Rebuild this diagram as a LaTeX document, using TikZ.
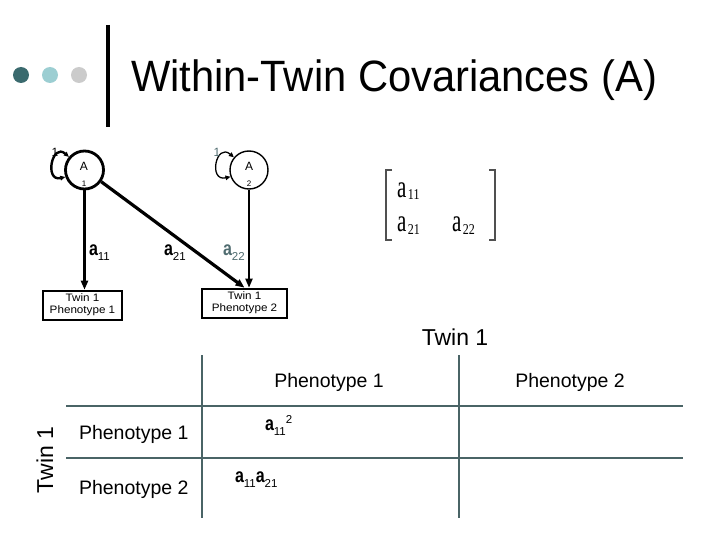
\documentclass[tikz,border=0pt]{standalone}
\usepackage{fontspec}
\setmainfont{Liberation Sans}
\newfontfamily\serifx{Liberation Serif}
\usepackage{graphicx}
\usetikzlibrary{arrows.meta}
\definecolor{dotdark}{RGB}{58,106,110}
\definecolor{dotlight}{RGB}{156,206,210}
\definecolor{dotgrey}{RGB}{203,203,203}
\definecolor{gridc}{RGB}{74,100,102}
\definecolor{tealtext}{RGB}{80,108,112}
\definecolor{bracketc}{RGB}{80,80,80}
\newcommand\bfa{\scalebox{1}[1.25]{\fontsize{16}{16}\selectfont\bfseries a}}
\newcommand\sbs[1]{\raisebox{-5pt}{\fontsize{11.5}{11.5}\selectfont #1}}
\newcommand\sra{\scalebox{1}[1.5]{\fontsize{21}{21}\selectfont a}}
\newcommand\srs[1]{\raisebox{-2pt}{\scalebox{1}[1.25]{\fontsize{12}{12}\selectfont #1}}}
\newcommand\boxtext[1]{\scalebox{1.08}[1]{\begin{tabular}{@{}c@{}}#1\end{tabular}}}
\begin{document}
\begin{tikzpicture}[x=1pt,y=-1pt,
  acirc/.style={circle, draw, minimum size=38pt, inner sep=0pt},
  phenobox/.style={rectangle, draw, line width=2.6pt, inner sep=0pt, align=center,
     font=\fontsize{10.8}{12}\selectfont},
  thickarr/.style={line width=3.2pt, -{Triangle[length=9pt,width=7pt]}},
  thinarr/.style={line width=1.8pt, -{Triangle[length=9pt,width=7pt]}},
  looparr/.style={{Triangle[length=5pt,width=4.5pt]}-{Triangle[length=5pt,width=4.5pt]}},
  txt/.style={inner sep=0pt, outer sep=0pt},
  gridline/.style={draw=gridc, line width=2.4pt},
  brack/.style={draw=bracketc, line width=1.4pt}
]
\useasboundingbox (0,0) rectangle (720,540);
\fill[white] (0,0) rectangle (720,540);

% header
\fill[dotdark] (21,75) circle (8);
\fill[dotlight] (50,75) circle (8);
\fill[dotgrey] (79,75) circle (8);
\draw[line width=4pt] (108,25) -- (108,127);
\node[txt, anchor=base west, font=\fontsize{43}{43}\selectfont] (title) at (131,92) {\scalebox{0.97}[1.02]{Within-Twin Covariances (A)}};

% path diagram
\node[acirc, line width=2.8pt] (A1) at (84.5,170) {};
\node[acirc, line width=1.4pt] (A2) at (249,170) {};
\node[txt, font=\fontsize{12}{12}\selectfont] (A1t) at (84,166) {A};
\node[txt, font=\fontsize{8}{8}\selectfont] (A1s) at (84,184) {1};
\node[txt, font=\fontsize{12}{12}\selectfont] (A2t) at (249,166) {A};
\node[txt, font=\fontsize{8}{8}\selectfont] (A2s) at (249,184) {2};

\draw[looparr, line width=2.4pt] (A1.140) .. controls (52,142) and (44,182) .. (A1.200);
\draw[looparr, line width=1.3pt] (A2.140) .. controls (216,142) and (208,182) .. (A2.200);
\node[txt, font=\fontsize{12}{12}\selectfont] (L1) at (55,152) {1};
\node[txt, font=\fontsize{12}{12}\selectfont, text=tealtext] (L2) at (217,152) {1};

\node[phenobox, minimum width=79pt, minimum height=29pt] (B1) at (82.5,305.5) {\boxtext{Twin 1\\Phenotype 1}};
\node[phenobox, minimum width=85pt, minimum height=29pt] (B2) at (244.5,303.5) {\boxtext{Twin 1\\Phenotype 2}};

\draw[thickarr] (A1.south) -- (A1.south |- B1.north);
\draw[thickarr] (A1.-35) -- (B2.north);
\draw[thinarr] (A2.south) -- (A2.south |- B2.north);

\node[txt, anchor=base west] (la11) at (89,255) {\bfa\sbs{11}};
\node[txt, anchor=base west] (la21) at (164,255) {\bfa\sbs{21}};
\node[txt, anchor=base west, text=tealtext] (la22) at (223,255) {\bfa\sbs{22}};

% matrix
\draw[brack] (392,170) -- (386,170) -- (386,240) -- (392,240);
\draw[brack] (489,170) -- (495,170) -- (495,240) -- (489,240);
\node[txt, anchor=base west, font=\serifx] (m11) at (397,197) {\sra\,\srs{11}};
\node[txt, anchor=base west, font=\serifx] (m21) at (397,232) {\sra\,\srs{21}};
\node[txt, anchor=base west, font=\serifx] (m22) at (452,232) {\sra\,\srs{22}};

% table
\node[txt, anchor=base, font=\fontsize{23}{23}\selectfont] (twtop) at (455,345) {Twin 1};
\node[txt, anchor=base, rotate=90, font=\fontsize{23}{23}\selectfont] (twleft) at (53,460) {Twin 1};
\draw[gridline] (66,406) -- (683,406);
\draw[gridline] (66,458) -- (683,458);
\draw[gridline] (202,355) -- (202,518);
\draw[gridline] (459,355) -- (459,518);
\node[txt, anchor=base, font=\fontsize{19.5}{19.5}\selectfont] (h1) at (329,387) {Phenotype 1};
\node[txt, anchor=base, font=\fontsize{19.5}{19.5}\selectfont] (h2) at (570,387) {Phenotype 2};
\node[txt, anchor=base west, font=\fontsize{19.5}{19.5}\selectfont] (r1) at (79,439) {Phenotype 1};
\node[txt, anchor=base west, font=\fontsize{19.5}{19.5}\selectfont] (r2) at (79,494) {Phenotype 2};
\node[txt, anchor=base west] (c11) at (265,430) {\bfa\sbs{11}\raisebox{7pt}{\fontsize{11.5}{11.5}\selectfont 2}};
\node[txt, anchor=base west] (c21) at (235,482) {\bfa\sbs{11}\bfa\sbs{21}};
\end{tikzpicture}
\end{document}
